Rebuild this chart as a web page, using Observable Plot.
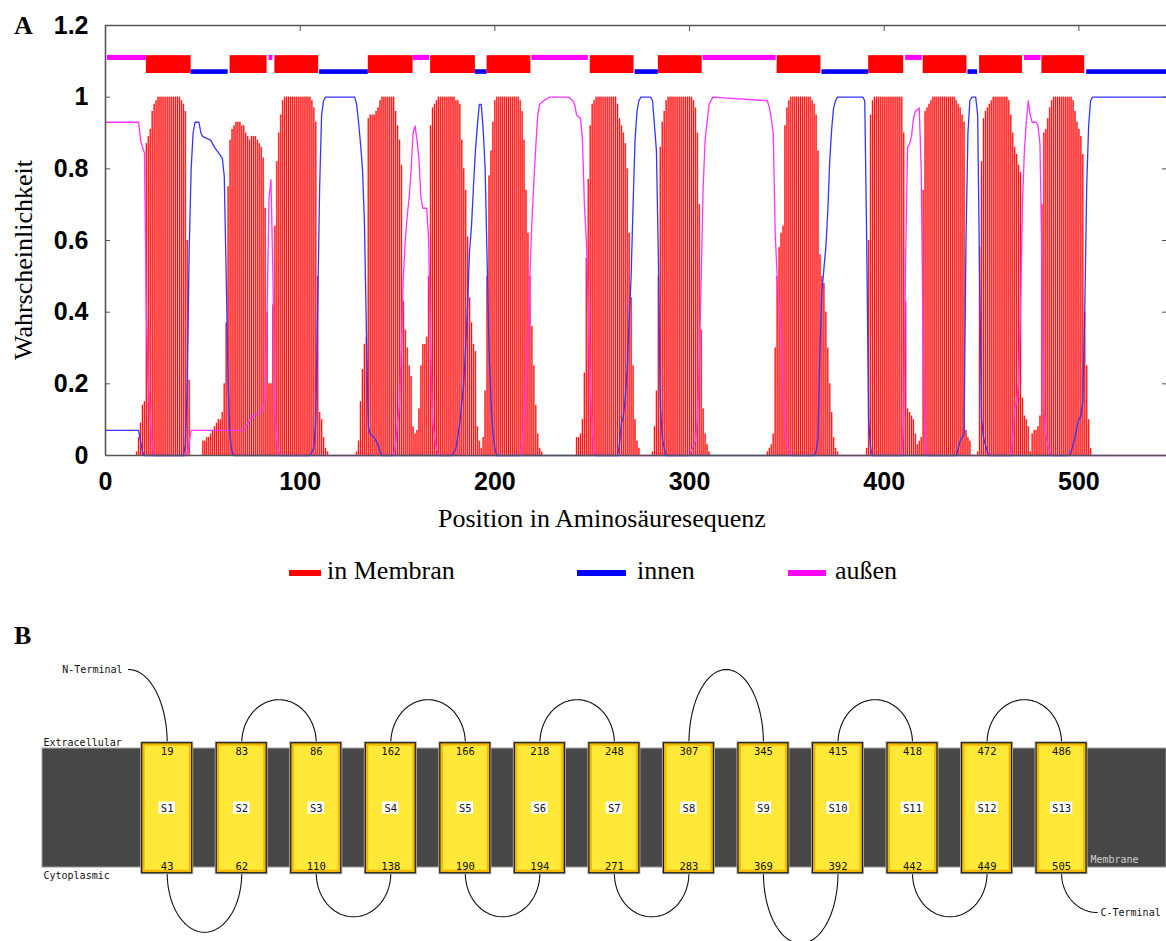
<!DOCTYPE html>
<html>
<head>
<meta charset="utf-8">
<script src="https://cdn.jsdelivr.net/npm/d3@7"></script>
<script src="https://cdn.jsdelivr.net/npm/@observablehq/plot@0.6"></script>
<style>
  html, body { margin: 0; padding: 0; background: #fff; }
  #wrap { position: relative; width: 1166px; height: 941px; overflow: hidden; background: #fff;
          font-family: "Liberation Serif", "Times New Roman", serif; color: #000; }
  .abs { position: absolute; white-space: nowrap; }
  .panel { position: absolute; left: 0; }
  .serif { font-family: "Liberation Serif", "Times New Roman", serif; font-size: 26px; line-height: 26px; }
  .swatch { position: absolute; height: 6px; }
</style>
</head>
<body>
<div id="wrap">
  <div id="chartA" class="panel" style="top:0"></div>
  <div id="chartB" class="panel" style="top:620px"></div>
  <div class="abs serif" style="left:14px;top:13px;font-weight:bold;">A</div>
  <div class="abs serif" style="left:14px;top:623px;font-weight:bold;">B</div>
  <div id="xtitle" class="abs serif" style="left:438px;top:506px;"></div>
  <div id="ytitle" class="abs serif" style="left:-126px;top:247px;width:300px;height:26px;text-align:center;transform:rotate(-90deg);transform-origin:150px 13px;"></div>
  <div id="legend"></div>
</div>
<script>
// ---------------- DATA (panel A) ----------------
const seqLength = 545;
const xTicks = [0, 100, 200, 300, 400, 500];
const yTicks = [0, 0.2, 0.4, 0.6, 0.8, 1, 1.2];
const xTitle = "Position in Aminosäuresequenz";
const yTitle = "Wahrscheinlichkeit";
const legendLabels = ["in Membran", "innen", "außen"];

// membrane probability per residue (residue 1..545)
const membranProb = [
  0,0,0,0,0,0,0,0,0,0,
  0,0,0,0,0,.01,.05,.09,.14,.15,
  .87,.89,.91,.96,.98,.99,1,1,1,1,
  1,1,1,1,1,1,1,1,.99,.98,
  .96,.6,.21,0,0,0,0,0,0,.04,
  .04,.05,.05,.06,.07,.08,.09,.1,.1,.12,
  .2,.37,.75,.88,.91,.92,.93,.93,.93,.92,
  .92,.9,.89,.88,.89,.89,.89,.88,.87,.86,
  .83,.69,.4,.2,.2,.42,.64,.82,.9,.95,
  .99,1,1,1,1,1,1,1,1,1,
  1,1,1,1,1,.99,.97,.93,.5,.12,
  .1,.05,.02,.01,0,0,0,0,0,0,
  0,0,0,0,0,0,0,0,.01,.04,
  .15,.24,.31,.33,.94,.95,.95,.95,.96,.97,
  .99,1,1,1,1,1,1,1,.96,.92,
  .88,.81,.43,.35,.3,.25,.22,.08,.06,.07,
  .13,.25,.31,.31,.33,.5,.92,.97,.98,.99,
  1,1,1,1,1,1,1,1,1,.99,
  .99,.98,.88,.8,.74,.61,.44,.37,.31,.29,
  .08,.04,.02,.05,.18,.5,.78,.85,.93,.99,
  1,1,1,1,1,1,1,1,1,1,
  1,1,.99,.96,.88,.74,.62,.5,.36,.25,
  .14,.06,.02,.01,0,0,0,0,0,0,
  0,0,0,0,0,0,0,0,0,0,
  0,.05,.05,.06,.1,.23,.55,.77,.92,.98,
  .99,1,1,1,1,1,1,1,1,1,
  1,1,.98,.94,.92,.9,.87,.8,.62,.44,
  .25,.1,.04,.02,0,0,0,0,0,0,
  .01,.08,.18,.5,.86,.93,.96,.99,1,1,
  1,1,1,1,1,1,1,1,1,1,
  1,.99,.97,.9,.7,.35,.13,.06,.03,.01,
  0,0,0,0,0,0,0,0,0,0,
  0,0,0,0,0,0,0,0,0,0,
  0,0,0,0,0,0,0,0,0,.01,
  .02,.03,.06,.3,.5,.58,.62,.64,.92,.97,
  .99,1,1,1,1,1,1,1,1,1,
  1,1,.99,.98,.95,.85,.56,.5,.48,.4,
  .3,.2,.12,.05,.02,.01,0,0,0,0,
  0,0,0,0,0,0,0,0,0,0,
  .02,.6,.95,.99,1,1,1,1,1,1,
  1,1,1,1,1,1,1,1,1,.9,
  .43,.13,.12,.11,.1,.06,.03,.04,.05,.74,
  .96,.97,.98,.99,1,1,1,1,1,1,
  1,1,1,1,1,1,.99,.98,.97,.95,
  .93,.07,.05,.04,0,0,0,.01,.58,.82,
  .94,.96,.97,.98,.99,1,1,1,1,1,
  1,1,1,.99,.95,.9,.86,.84,.81,.79,
  .16,.11,.1,.08,.01,.06,.07,.07,.08,.11,
  .7,.9,.91,.94,.97,.99,1,1,1,1,
  1,1,1,1,1,1,.99,.96,.93,.91,
  .89,.84,.4,.25,.1,.02,0,0,0,0,
  0,0,0,0,0,0,0,0,0,0,
  0,0,0,0,0,0,0,0,0,0,
  0,0,0,0,0,0,0,0,0,0,
  0,0,0,0,0
];

// "innen" (inside) probability, read at the curve's vertices
const innenPos = [0,17,18,19,20, 40,41,42,43,44,45,46,48,49,50,54,56,58,60,61,62,63,64,65,66,
  105,107,108,109,110,111,112,113, 128,129,130,131,132,133,134,135,136,138,139,140,141,142,
  178,180,182,184,185,186,187,188,189,190,191,192,193,194,195,196,197,198,199,200,201,
  263,264,265,266,267,268,269,270,271,272,273,274,275, 280,281,282,283,284,285,286,287,288,
  364,365,366,367,368,369,370,371,372,373,374,375,376, 389,390,391,392,393,394,
  437,438,439,440,441,442,443,444,445,447,448,449,450,451,452,453,454,
  495,496,497,498,499,500,501,502,503,504,505,506,507,545];
const innenVal = [.07,.07,.04,.01,0, 0,.03,.2,.58,.8,.9,.93,.93,.9,.89,.88,.86,.845,.83,.78,.5,.2,.05,.01,0,
  0,.02,.1,.42,.75,.95,.99,1, 1,.98,.93,.87,.8,.65,.35,.08,.06,.05,.04,.03,.01,0,
  0,.02,.09,.2,.3,.42,.57,.64,.75,.85,.92,.98,.98,.91,.8,.55,.3,.15,.06,.02,0,
  0,.03,.09,.11,.16,.24,.38,.5,.7,.88,.96,.99,1, 1,.99,.92,.85,.55,.14,.05,.02,0,
  0,.01,.05,.3,.46,.52,.58,.68,.82,.91,.97,.99,1, 1,.99,.6,.1,.02,0,
  0,.02,.04,.05,.06,.6,.9,.99,1,1,.95,.5,.1,.05,.03,.01,0,
  0,.01,.03,.05,.08,.1,.11,.15,.4,.75,.92,.99,1,1];

// "außen" (outside) probability, read at the curve's vertices
const aussenPos = [0,17,18,19,20,21,22,23,24,25, 42,43,44,71,72,73,74,76,79,81,82,83,84,85,86,87,88,89,90,
  148,149,150,151,152,153,154,155,156,157,158,159,160,161,162,163,165,166,167,168,169,170,171,
  213,214,215,216,217,218,219,220,221,222,223,225,228,238,240,241,242,244,245,246,247,248,249,250,251,252,
  300,303,304,305,306,307,308,309,310,312,340,341,342,343,344,345,346,347,348,349,350,352,
  409,410,411,412,413,414,415,416,418,419,420,421,422,
  465,466,467,468,469,470,471,472,473,474,475,476,478,479,480,481,482,483,484,485,486,545];
const aussenVal = [.93,.93,.88,.86,.845,.4,.2,.1,.03,0, 0,.04,.07,.07,.08,.09,.1,.11,.12,.13,.15,.4,.72,.77,.5,.12,.04,.01,0,
  0,.03,.09,.14,.3,.5,.6,.67,.72,.8,.9,.92,.88,.83,.72,.69,.69,.6,.3,.1,.05,.02,0,
  0,.03,.1,.2,.32,.5,.65,.76,.86,.95,.98,.99,1,1,.99,.98,.95,.94,.88,.7,.6,.42,.2,.08,.02,0,
  0,.04,.1,.25,.5,.75,.88,.93,.98,1,.99,.97,.94,.9,.62,.5,.42,.35,.22,.08,.03,0,
  0,.1,.55,.86,.87,.89,.94,.96,.97,.8,.3,.05,0,
  0,.05,.13,.15,.2,.4,.7,.85,.93,.99,.95,.93,.93,.92,.87,.55,.13,.06,.03,.01,0,0];

// predicted topology strip at the top
const topoStart = [1, 21, 44, 64, 84, 87, 110, 135, 158, 167, 190, 196, 219, 249, 272, 284, 307, 345, 368, 392, 411, 420, 443, 449, 472, 481, 504];
const topoEnd   = [21, 44, 63, 83, 86, 109.5, 135, 158, 166.5, 190, 196, 218.5, 248, 271.5, 284, 306.5, 344.5, 367.5, 392, 410, 419.5, 442.5, 448, 471, 480.5, 503, 545];
const topoType  = ["aussen","membran","innen","membran","aussen","membran","innen","membran","aussen","membran","innen","membran","aussen","membran","innen","membran","aussen","membran","innen","membran","aussen","membran","innen","membran","aussen","membran","innen"];

// ---------------- DATA (panel B) ----------------
const helixNames = ["S1","S2","S3","S4","S5","S6","S7","S8","S9","S10","S11","S12","S13"];
const helixStart = [19, 62, 86, 138, 166, 194, 248, 283, 345, 392, 418, 449, 486];
const helixEnd   = [43, 83, 110, 162, 190, 218, 271, 307, 369, 415, 442, 472, 505];
const sideLabels = ["Extracellular", "Cytoplasmic", "Membrane", "N-Terminal", "C-Terminal"];

// ---------------- STYLE ----------------
const C = { red: "#ff0000", pink: "#ff8f8f", blue: "#3535ff", magenta: "#ff33ff", axis: "#555" };
const stripY = { aussen: [1.1025, 1.1165], innen: [1.0635, 1.0765], membran: [1.066, 1.1158] };
const stripColor = { aussen: "#ff00ff", innen: "#0000ff", membran: "#ff0000" };

// ---------------- PANEL A ----------------
const bars = membranProb.map((p, i) => ({ pos: i + 1, p })).filter(d => d.p > 0);
const innen = innenPos.map((pos, i) => ({ pos, p: innenVal[i] }));
const aussen = aussenPos.map((pos, i) => ({ pos, p: aussenVal[i] }));
const topo = topoStart.map((s, i) => ({ start: s, end: topoEnd[i], type: topoType[i] }));
const fmt = d => String(+d.toFixed(1));

const chartA = Plot.plot({
  width: 1166, height: 500,
  marginLeft: 105, marginRight: 0, marginTop: 25, marginBottom: 45,
  x: { domain: [0, seqLength], label: null },
  y: { domain: [0, 1.2], label: null },
  style: { fontFamily: "'Liberation Sans', Arial, sans-serif", background: "transparent", color: "#000", overflow: "visible" },
  marks: [
    Plot.ruleX(bars, { x: "pos", y1: 0, y2: "p", stroke: C.pink, strokeWidth: 1.95 }),
    Plot.ruleX(bars, { x: "pos", y1: 0, y2: "p", stroke: C.red, strokeWidth: 0.9 }),
    Plot.line(aussen, { x: "pos", y: "p", stroke: C.magenta, strokeWidth: 1.3 }),
    Plot.line(innen, { x: "pos", y: "p", stroke: C.blue, strokeWidth: 1.3 }),
    Plot.rect(topo, { x1: "start", x2: "end", y1: d => stripY[d.type][0], y2: d => stripY[d.type][1],
      fill: d => stripColor[d.type] }),
    Plot.ruleY([0, 1.2], { stroke: C.axis, strokeWidth: 1.6 }),
    Plot.ruleX([0], { stroke: C.axis, strokeWidth: 1.6 }),
    Plot.axisY(yTicks, { anchor: "left", tickSize: 5, dx: 5, stroke: C.axis, tickFormat: () => "", label: null }),
    Plot.axisY(yTicks.slice(1, -1), { anchor: "right", tickSize: 5, dx: -5, stroke: C.axis, tickFormat: () => "", label: null }),
    Plot.axisX(xTicks.slice(1), { anchor: "top", tickSize: 5, dy: 5, stroke: C.axis, tickFormat: () => "", label: null }),
    Plot.axisY(yTicks, { anchor: "left", tickSize: 0, tickPadding: 17, tickFormat: fmt, fontSize: 25, fontWeight: "bold", label: null }),
    Plot.axisX(xTicks, { anchor: "bottom", tickSize: 0, tickPadding: 17, fontSize: 25, fontWeight: "bold", label: null })
  ]
});
document.getElementById("chartA").appendChild(chartA);

document.getElementById("xtitle").textContent = xTitle;
document.getElementById("ytitle").textContent = yTitle;

// legend
const legendLayout = [
  { color: "#ff0000", sx: 289, sw: 32, tx: 327 },
  { color: "#0000ff", sx: 577, sw: 49, tx: 637 },
  { color: "#ff00ff", sx: 788, sw: 38, tx: 835 }
];
const legend = document.getElementById("legend");
legendLabels.forEach((lab, i) => {
  const L = legendLayout[i];
  const s = document.createElement("div");
  s.className = "swatch";
  s.style.cssText = `left:${L.sx}px;top:570px;width:${L.sw}px;background:${L.color};`;
  legend.appendChild(s);
  const t = document.createElement("div");
  t.className = "abs serif";
  t.style.cssText = `left:${L.tx}px;top:558px;`;
  t.textContent = lab;
  legend.appendChild(t);
});

// ---------------- PANEL B ----------------
const hw = 25 / 74.53;              // half box width (in helix-spacing units)
const helices = helixNames.map((name, k) => ({
  name, idx: k + 1,
  top: k % 2 === 0 ? helixStart[k] : helixEnd[k],
  bottom: k % 2 === 0 ? helixEnd[k] : helixStart[k]
}));
const loopSize = { "S1-S2": 0.454, "S9-S10": 0.54, "S8-S9": 0.567 };
function arc(id, cx, rx, base, ry, dir, t0, t1) {
  const pts = [];
  for (let k = 0; k <= 60; k++) {
    const t = t0 + (t1 - t0) * k / 60;
    pts.push({ id, x: cx + rx * Math.cos(t), y: base + dir * ry * Math.sin(t) });
  }
  return pts;
}
let arcs = [];
for (let k = 0; k < helices.length - 1; k++) {
  const a = helices[k], b = helices[k + 1];
  const key = a.name + "-" + b.name;
  const cyt = k % 2 === 0;
  const ry = loopSize[key] ?? 0.335;
  arcs = arcs.concat(arc(key, (a.idx + b.idx) / 2, 0.5, cyt ? 0 : 1, ry, cyt ? -1 : 1, Math.PI, 0));
}
arcs = arcs.concat(arc("N", 0.4808, 0.5192, 1, 0.567, 1, Math.PI / 2, 0));
arcs = arcs.concat(arc("C", 13.48, 0.48, 0, 0.302, -1, Math.PI, Math.PI / 2));

const mono = "'DejaVu Sans Mono', 'Liberation Mono', monospace";
const short = helices.filter(d => d.name.length === 2);
const long = helices.filter(d => d.name.length === 3);

const chartB = Plot.plot({
  width: 1166, height: 321, margin: 0,
  x: { domain: [-1.2367, 14.408], axis: null },
  y: { domain: [-0.525, 1.944], axis: null },
  style: { fontFamily: mono, background: "transparent", overflow: "visible" },
  marks: [
    Plot.rect([0], { x1: -0.673, x2: 14.408, y1: 0.044, y2: 0.959, fill: "#474747", stroke: "#9a9a9a", strokeWidth: 1 }),
    Plot.line(arcs, { x: "x", y: "y", z: "id", stroke: "#111", strokeWidth: 1.1 }),
    Plot.rect(helices, { x1: d => d.idx - hw, x2: d => d.idx + hw, y1: 0, y2: 1, fill: "#f2b800", stroke: "#b0b0b0", strokeWidth: 3 }),
    Plot.rect(helices, { x1: d => d.idx - hw, x2: d => d.idx + hw, y1: 0, y2: 1, fill: "#f2b800", stroke: "#1a1a1a", strokeWidth: 1.2 }),
    Plot.rect(helices, { x1: d => d.idx - hw, x2: d => d.idx + hw, y1: 0, y2: 1, inset: 3, fill: "#ffe838" }),
    Plot.rect(short, { x1: d => d.idx - 0.11, x2: d => d.idx + 0.11, y1: 0.455, y2: 0.548, fill: "#fff" }),
    Plot.rect(long, { x1: d => d.idx - 0.15, x2: d => d.idx + 0.15, y1: 0.455, y2: 0.548, fill: "#fff" }),
    Plot.text(helices, { x: "idx", y: 0.5, text: "name", fontSize: 10.5, fill: "#111" }),
    Plot.text(helices, { x: "idx", y: 0.938, text: "top", fontSize: 10.5, fill: "#111" }),
    Plot.text(helices, { x: "idx", y: 0.054, text: "bottom", fontSize: 10.5, fill: "#111" }),
    Plot.text([sideLabels[0]], { x: -0.66, y: 1.005, text: d => d, textAnchor: "start", fontSize: 10, fill: "#111" }),
    Plot.text([sideLabels[1]], { x: -0.66, y: -0.022, text: d => d, textAnchor: "start", fontSize: 10, fill: "#111" }),
    Plot.text([sideLabels[2]], { x: 13.388, y: 0.1015, text: d => d, textAnchor: "start", fontSize: 10, fill: "#cfcfcf" }),
    Plot.text([sideLabels[3]], { x: 0.4006, y: 1.567, text: d => d, textAnchor: "end", fontSize: 10, fill: "#111" }),
    Plot.text([sideLabels[4]], { x: 13.522, y: -0.302, text: d => d, textAnchor: "start", fontSize: 10, fill: "#111" })
  ]
});
document.getElementById("chartB").appendChild(chartB);
</script>
</body>
</html>
